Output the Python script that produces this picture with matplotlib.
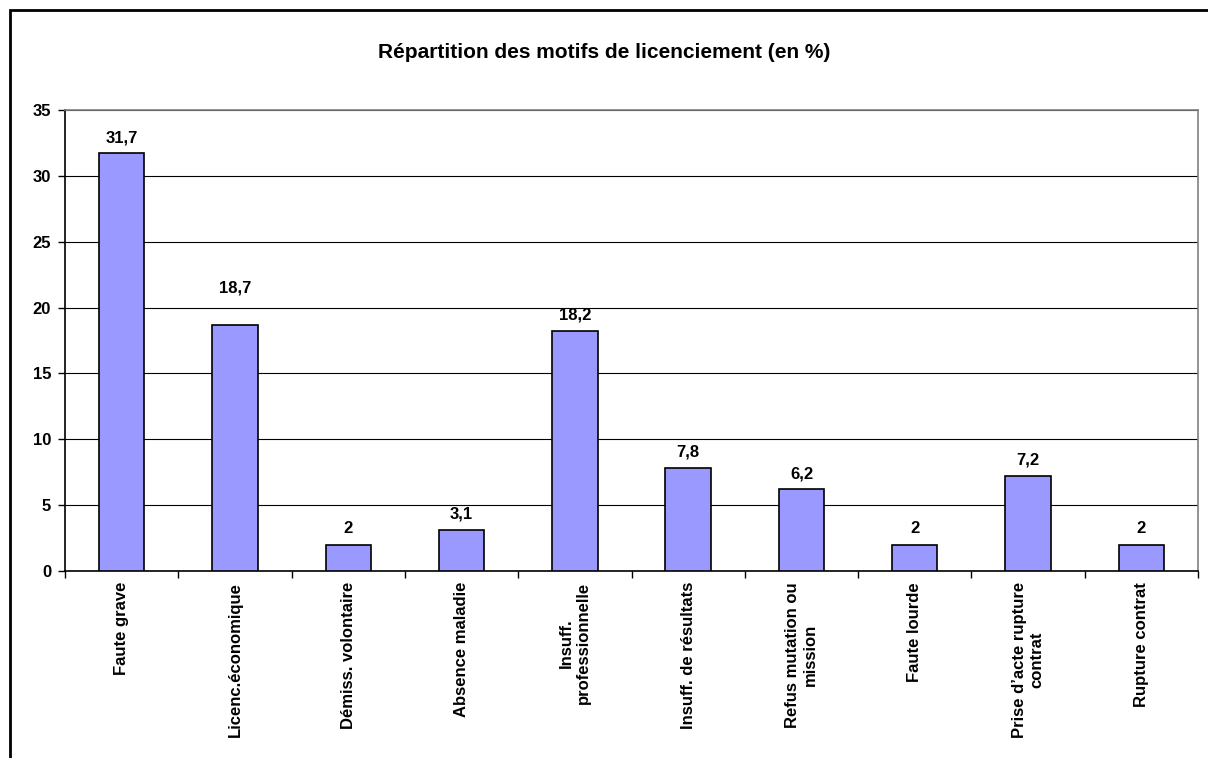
import matplotlib
matplotlib.use("Agg")
import matplotlib.pyplot as plt
from matplotlib.patches import Rectangle

categories = ["Faute grave", "Licenc.économique", "Démiss. volontaire", "Absence maladie",
              "Insuff.\nprofessionnelle", "Insuff. de résultats", "Refus mutation ou\nmission",
              "Faute lourde", "Prise d’acte rupture\ncontrat", "Rupture contrat"]
values = [31.7, 18.7, 2, 3.1, 18.2, 7.8, 6.2, 2, 7.2, 2]
value_labels = ["31,7", "18,7", "2", "3,1", "18,2", "7,8", "6,2", "2", "7,2", "2"]
yticks = [0, 5, 10, 15, 20, 25, 30, 35]
title = "Répartition des motifs de licenciement (en %)"

plt.rcParams['font.family'] = ['Liberation Sans', 'DejaVu Sans']

W, H = 1208, 758
fig = plt.figure(figsize=(W/100, H/100), dpi=100)
ax = fig.add_axes([65/W, 1-571/H, (1198-65)/W, (571-110)/H])

x = list(range(len(categories)))
ax.bar(x, values, width=0.4, color="#9999FF", edgecolor="black", linewidth=1.2, zorder=3)
ax.set_xlim(-0.5, len(categories)-0.5)
ax.set_ylim(0, 35)
ax.set_yticks(yticks)
ax.set_yticklabels([str(t) for t in yticks], fontsize=12, fontweight='bold')
ax.yaxis.grid(True, color="#000000", linewidth=0.8, zorder=0)
ax.set_axisbelow(True)

ax.set_xticks([i - 0.5 for i in range(len(categories)+1)], minor=False)
ax.set_xticklabels([])
ax.set_xticks(x, minor=True)
ax.set_xticklabels(categories, minor=True, rotation=90, ha='center', va='top',
                   fontsize=12, fontweight='bold', multialignment='center')
ax.tick_params(axis='x', which='minor', length=0, pad=8)
ax.tick_params(axis='x', which='major', length=5, direction='out', width=1)
ax.tick_params(axis='y', length=5, direction='out', width=1, pad=5)

for s in ['top', 'right']:
    ax.spines[s].set_color('#808080')
    ax.spines[s].set_linewidth(1.2)
for s in ['left', 'bottom']:
    ax.spines[s].set_color('black')
    ax.spines[s].set_linewidth(1.2)

# the "18,7" label sits higher in the original
extra_offset = {1: 15}
for i, (xi, v, lab) in enumerate(zip(x, values, value_labels)):
    ax.annotate(lab, (xi, v), xytext=(0, 6 + extra_offset.get(i, 0)), textcoords='offset points',
                ha='center', va='bottom', fontsize=12, fontweight='bold', zorder=4)

fig.text(0.5, 1-52/H, title, ha='center', va='center', fontsize=15, fontweight='bold')

fig.patches.append(Rectangle((10/W, -0.1), 1.2, 1-10/H+0.1, transform=fig.transFigure,
                             fill=False, edgecolor='black', linewidth=2))

fig.savefig("out.png", dpi=100)
